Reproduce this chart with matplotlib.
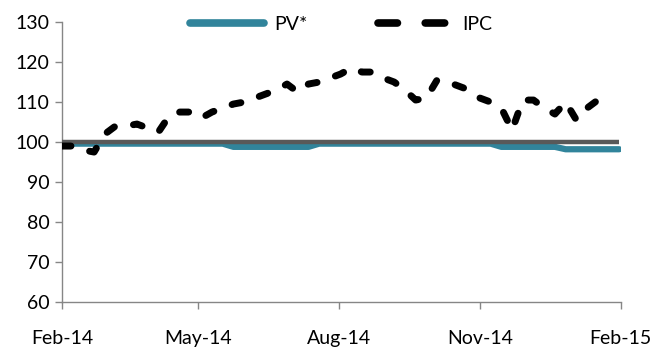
import matplotlib
matplotlib.use("Agg")
import matplotlib.pyplot as plt
import matplotlib.dates as mdates
import numpy as np
import pandas as pd

# weekly series, Feb-14 .. Feb-15
dates = pd.date_range("2014-02-01", periods=53, freq="7D")

ipc = [99, 99, 98, 97.5, 102, 104, 104, 104.5, 103.5, 102.5,
       106.5, 107.5, 107.5, 106, 107.5, 108.5, 109.5, 110, 111, 112,
       113, 114.5, 112.5, 114.5, 115, 116, 117, 118.5, 117.5, 117.5,
       116, 115, 113, 110.5, 111, 115.5, 115, 114, 113, 111,
       110, 108.5, 103, 110.5, 110.5, 108.5, 107, 110, 105.5, 108.5,
       110.5, 112, np.nan]

pv = [99.6] * 16 + [98.8] * 8 + [99.6] * 17 + [98.8] * 6 + [98.2] * 6
base = [100] * 53

plt.rcParams['font.family'] = ['Lato', 'DejaVu Sans']
plt.rcParams['lines.scale_dashes'] = False

fig = plt.figure(figsize=(6.59, 3.5), dpi=100)
ax = fig.add_axes([0.094, 0.137, 0.848, 0.8])

ax.plot(dates, pv, color="#31849B", lw=4.5, solid_capstyle="round",
        solid_joinstyle="round", label="PV*", zorder=2)
ax.plot(dates, base, color="#595959", lw=3.2, solid_capstyle="butt", zorder=3)
l_ipc, = ax.plot(dates, ipc, color="black", lw=5, dash_capstyle="round",
                 dash_joinstyle="round", label="IPC", zorder=4)
l_ipc.set_dashes([6.5, 14])

ax.set_xlim(pd.Timestamp("2014-02-01"), pd.Timestamp("2015-02-01"))
ax.set_ylim(60, 130)
ax.set_yticks(range(60, 131, 10))
ax.xaxis.set_major_locator(mdates.MonthLocator(bymonth=[2, 5, 8, 11]))
ax.xaxis.set_major_formatter(mdates.DateFormatter("%b-%y"))

for s in ["top", "right"]:
    ax.spines[s].set_visible(False)
for s in ["left", "bottom"]:
    ax.spines[s].set_color("#868686")
    ax.spines[s].set_linewidth(1)
ax.tick_params(axis="both", colors="#868686", labelcolor="black",
               labelsize=14, length=5, width=1)
ax.tick_params(axis="x", pad=15)
ax.tick_params(axis="y", pad=4)

leg = ax.legend(loc="upper center", bbox_to_anchor=(0.5, 1.085), ncol=2,
                frameon=False, fontsize=14, handlelength=3.8,
                columnspacing=3.6, handletextpad=0.55)
leg.get_lines()[0].set_linewidth(5.5)
leg.get_lines()[1].set_linewidth(5.5)
leg.get_lines()[1].set_dashes([14, 20])

fig.savefig("out.png", dpi=100)
